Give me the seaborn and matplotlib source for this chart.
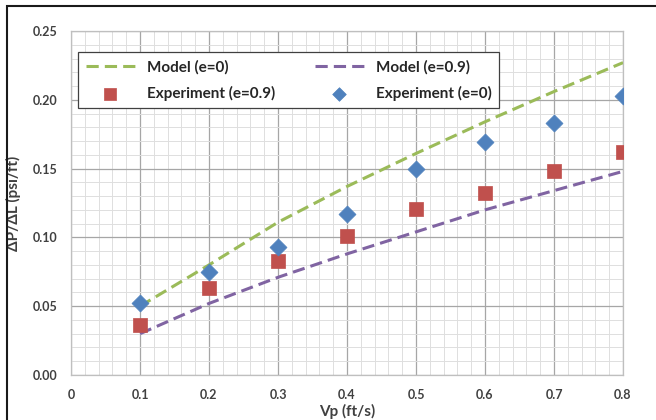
import matplotlib
matplotlib.use("Agg")
import matplotlib.pyplot as plt
import matplotlib.patches as mpatches
from matplotlib.ticker import MultipleLocator
import seaborn as sns

# data
vp = [0.1, 0.2, 0.3, 0.4, 0.5, 0.6, 0.7, 0.8]
model_e0 = [0.050, 0.080, 0.111, 0.137, 0.161, 0.184, 0.206, 0.227]
model_e09 = [0.030, 0.052, 0.071, 0.088, 0.104, 0.120, 0.134, 0.148]
exp_e09 = [0.036, 0.063, 0.083, 0.101, 0.121, 0.132, 0.148, 0.162]
exp_e0 = [0.052, 0.075, 0.093, 0.117, 0.150, 0.169, 0.183, 0.203]
xticks = [0, 0.1, 0.2, 0.3, 0.4, 0.5, 0.6, 0.7, 0.8]
xtick_labels = ["0", "0.1", "0.2", "0.3", "0.4", "0.5", "0.6", "0.7", "0.8"]
yticks = [0.00, 0.05, 0.10, 0.15, 0.20, 0.25]
ytick_labels = ["0.00", "0.05", "0.10", "0.15", "0.20", "0.25"]

sns.set_style("white")
plt.rcParams['font.family'] = ['Lato', 'DejaVu Sans']
plt.rcParams['font.weight'] = 'bold'

fig = plt.figure(figsize=(6.56, 4.2), dpi=100)
ax = fig.add_axes([71/656, 1 - 375/420, (623 - 71)/656, (375 - 31)/420])

green = "#9bbb59"
purple = "#8064a2"
red = "#c0504d"
blue = "#4f81bd"

sns.lineplot(x=vp, y=model_e0, ax=ax, color=green, lw=2.2, linestyle=(0, (4, 2)),
             label="Model (e=0)", zorder=3)
sns.scatterplot(x=vp, y=exp_e09, ax=ax, color=red, marker="s", s=100, edgecolor=red,
                linewidth=0.5, label="Experiment (e=0.9)", zorder=4)
sns.lineplot(x=vp, y=model_e09, ax=ax, color=purple, lw=2.2, linestyle=(0, (4, 2)),
             label="Model (e=0.9)", zorder=3)
sns.scatterplot(x=vp, y=exp_e0, ax=ax, color=blue, marker="D", s=75, edgecolor=blue,
                linewidth=0.5, label="Experiment (e=0)", zorder=5)

ax.set_xlim(0, 0.8)
ax.set_ylim(0, 0.25)
ax.set_xticks(xticks)
ax.set_xticklabels(xtick_labels)
ax.set_yticks(yticks)
ax.set_yticklabels(ytick_labels)
ax.xaxis.set_minor_locator(MultipleLocator(0.02))
ax.yaxis.set_minor_locator(MultipleLocator(0.01))
ax.grid(which="major", color="#a6a6a6", lw=0.9, zorder=0)
ax.grid(which="minor", color="#dedede", lw=0.7, zorder=0)
ax.set_axisbelow(True)
ax.tick_params(which="both", length=0, labelsize=9, colors="#404040", pad=10)
for s in ax.spines.values():
    s.set_color("#bfbfbf")
    s.set_linewidth(0.9)

ax.set_xlabel("Vp (ft/s)", fontsize=11, fontweight="bold", color="#404040", labelpad=2)
ax.set_ylabel("ΔP/ΔL (psi/ft)", fontsize=11, fontweight="bold", color="#404040", labelpad=8)

handles, labels = ax.get_legend_handles_labels()
leg = ax.legend(handles, labels, ncol=2, loc="upper left",
                bbox_to_anchor=(7/552, 1 - 21/344), borderaxespad=0, frameon=True,
                fancybox=False, edgecolor="#404040", framealpha=1, fontsize=11,
                handlelength=3.2, columnspacing=2.6, borderpad=0.5, labelspacing=0.75,
                markerscale=0.8)
leg.get_frame().set_linewidth(0.9)
for t in leg.get_texts():
    t.set_color("#262626")

# outer chart frame
frame = mpatches.Rectangle((7/656, -0.1), 1.2, 1.1 - 6.5/420, transform=fig.transFigure,
                           fill=False, edgecolor="#1a1a1a", lw=1.5, clip_on=False)
fig.patches.append(frame)

fig.savefig("out.png", dpi=100)
